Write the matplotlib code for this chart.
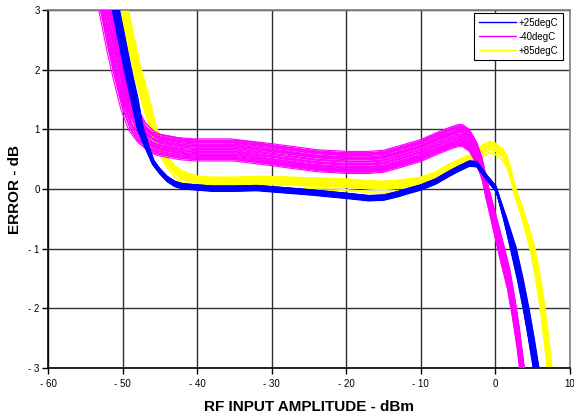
import numpy as np
import matplotlib
matplotlib.use('Agg')
import matplotlib.pyplot as plt

plt.rc('font', family=['Liberation Sans', 'DejaVu Sans'], size=7)
plt.rc('axes', unicode_minus=False)

# centre line of each bundle (dBm, dB)
x_25 = [-51.3, -50.9, -50.1, -49.3, -48.4, -47.6, -46.7, -45.9, -45.0, -44.0,
        -43.0, -42.0, -40.0, -38.0, -35.0, -32.0, -30.0, -25.0, -20.0, -17.0,
        -15.0, -13.0, -12.0, -10.0, -8.0, -6.2, -5.0, -3.5, -2.5, -1.2,
        0.1, 1.3, 2.4, 3.3, 4.1, 4.8, 5.45, 5.7]
y_25 = [3.3, 3.0, 2.5, 2.0, 1.5, 1.0, 0.7, 0.45, 0.3, 0.17,
        0.09, 0.05, 0.03, 0.01, 0.01, 0.02, 0.0, -0.05, -0.11, -0.15,
        -0.14, -0.08, -0.04, 0.03, 0.13, 0.26, 0.34, 0.43, 0.42, 0.2,
        0.0, -0.5, -1.0, -1.5, -2.0, -2.5, -3.0, -3.3]

x_m40 = [-52.5, -52.0, -51.2, -50.3, -49.3, -48.3, -47.3, -46.0, -45.0, -42.0,
         -40.0, -37.0, -35.0, -33.0, -30.0, -27.0, -24.0, -20.0, -17.0, -15.0,
         -13.0, -10.0, -8.0, -6.0, -5.0, -4.4, -3.5, -2.5, -1.8, -1.2,
         -0.3, 0.8, 1.8, 2.5, 3.1, 3.6, 3.9]
y_m40 = [3.3, 3.0, 2.5, 2.0, 1.5, 1.15, 0.95, 0.8, 0.75, 0.68,
         0.66, 0.66, 0.66, 0.63, 0.58, 0.53, 0.48, 0.45, 0.45, 0.47,
         0.54, 0.65, 0.76, 0.86, 0.9, 0.9, 0.82, 0.6, 0.35, 0.0,
         -0.45, -1.0, -1.5, -2.0, -2.5, -3.0, -3.3]

x_85 = [-50.2, -49.8, -49.0, -48.1, -47.0, -45.9, -45.0, -44.0, -43.0, -42.0,
        -40.0, -38.0, -35.0, -32.0, -30.0, -25.0, -20.0, -17.0, -15.0, -13.0,
        -10.0, -8.0, -6.2, -5.0, -3.5, -2.5, -1.6, -0.8, 0.0, 1.0,
        1.5, 2.0, 2.6, 3.5, 4.3, 4.95, 5.7, 6.3, 6.8, 7.25, 7.5]
y_85 = [3.3, 3.0, 2.5, 2.0, 1.5, 1.0, 0.7, 0.47, 0.32, 0.23,
        0.15, 0.13, 0.13, 0.14, 0.14, 0.12, 0.1, 0.07, 0.06, 0.08,
        0.13, 0.22, 0.35, 0.42, 0.5, 0.6, 0.68, 0.73, 0.7, 0.6,
        0.5, 0.3, 0.0, -0.35, -0.7, -1.0, -1.5, -2.0, -2.5, -3.0, -3.3]

# spread of the parts inside each bundle: dx is relative (-1..1), dy in dB
dx_25 = [-1.0, -0.9, -0.8, -0.75, -0.65, -0.55, -0.5, -0.4, -0.3, -0.25, -0.15,
         -0.1, 0.0, 0.05, 0.15, 0.2, 0.3, 0.35, 0.45, 0.5, 0.6, 0.65, 0.75,
         0.8, 0.9, 1.0, -0.35, 0.25, -0.05, 0.55, -0.7, 0.1]
dy_25 = [0.04, -0.02, 0.03, 0.0, -0.04, 0.02, 0.04, -0.01, 0.01, -0.03, 0.03,
         0.0, -0.02, 0.03, -0.04, 0.01, 0.02, -0.02, 0.035, -0.035, 0.02, -0.01,
         0.0, -0.03, 0.03, -0.04, 0.01, 0.02, -0.02, 0.0, 0.015, -0.05]
dx_m40 = [-1.0, 0.5, -0.4, -0.2, 0.3, -0.6, 0.1, -0.1, 0.45, -0.35, 0.2,
          0.0, -0.55, 0.25, -0.05, 0.55, -0.7, 0.35, -0.25, 0.15, -0.45, 0.4,
          -0.85, 0.05, 0.6, -0.15, 0.3, -0.3, 0.1, -0.5, 0.5, -0.65]
dy_m40 = [0.18, 0.15, 0.13, 0.11, 0.09, 0.07, 0.05, 0.04, 0.02, 0.0, -0.02,
          -0.03, -0.05, -0.07, -0.08, -0.1, -0.12, -0.13, -0.15, -0.17, -0.19, 0.16,
          -0.16, 0.12, 0.08, -0.04, 0.01, -0.09, 0.14, -0.11, 0.06, -0.14]
dx_85 = [0.3, -0.8, 0.9, -0.2, -1.0, 0.6, 0.0, -0.5, 0.75, -0.35, 0.15,
         -0.65, 0.45, 1.0, -0.1, 0.25, -0.9, 0.5, -0.45, 0.85, -0.25, 0.35,
         -0.75, 0.1, 0.65, -0.55, 0.2, -0.15, 0.55, -0.3, 0.05, 0.4]
dy_85 = [0.07, 0.06, 0.05, 0.04, 0.03, 0.02, 0.01, 0.0, -0.01, -0.02, -0.03,
         -0.04, -0.05, -0.06, -0.07, 0.065, 0.045, 0.025, 0.005, -0.015, -0.035, -0.055,
         0.055, 0.035, 0.015, -0.005, -0.025, -0.045, -0.065, -0.11, 0.0, -0.13]

# label, colour, x, y, dx, dy, sideways spread on left / right slopes (dBm), layer
series = [('+25degC', '#0000ff', x_25, y_25, dx_25, dy_25, 0.5, 0.4, 4),
          ('-40degC', '#ff00ff', x_m40, y_m40, dx_m40, dy_m40, 1.1, 0.25, 3),
          ('+85degC', '#ffff00', x_85, y_85, dx_85, dy_85, 0.6, 0.35, 2)]

xticks = [-60, -50, -40, -30, -20, -10, 0, 10]
xticklabels = ['- 60', '- 50', '- 40', '- 30', '- 20', '- 10', '0', '10']
yticks = [-3, -2, -1, 0, 1, 2, 3]
yticklabels = ['- 3', '- 2', '- 1', '0', '1', '2', '3']

fig = plt.figure(figsize=(5.74, 4.18), dpi=100)
ax = fig.add_axes([48 / 574, 50 / 418, 522 / 574, 358 / 418])

for label, c, xs, ys, dxs, dys, sl, sr, z in series:
    xs = np.array(xs)
    ys = np.array(ys)
    # how much the sideways spread applies along the curve
    wl = np.clip((ys - 0.2) / 1.0, 0, 1) * (xs < -30)
    wr = np.clip(-ys / 1.0, 0, 1) * (xs > -5)
    for i, (dx, dy) in enumerate(zip(dxs, dys)):
        ax.plot(xs + dx * (sl * wl + sr * wr), ys + dy, color=c, lw=0.8,
                label=label if i == 0 else None, zorder=z)

ax.set_xlim(-60, 10)
ax.set_ylim(-3, 3)
ax.set_xticks(xticks)
ax.set_xticklabels(xticklabels)
ax.set_yticks(yticks)
ax.set_yticklabels(yticklabels)
ax.grid(True, color='#303030', lw=1.0, zorder=1)
ax.set_axisbelow(True)
ax.tick_params(direction='out', length=4, width=1, pad=2, labelsize=7)
ax.tick_params(axis='x', pad=4)
for s in ['left', 'bottom']:
    ax.spines[s].set_color('black')
    ax.spines[s].set_linewidth(1.2)
for s in ['top', 'right']:
    ax.spines[s].set_color('#808080')
    ax.spines[s].set_linewidth(1.2)

ax.set_xlabel('RF INPUT AMPLITUDE - dBm', fontsize=11, fontweight='bold')
ax.set_ylabel('ERROR - dB', fontsize=11, fontweight='bold')
ax.xaxis.set_label_coords(0.5, -0.088)
ax.yaxis.set_label_coords(-0.05, 0.5)

leg = ax.legend(loc='upper right', bbox_to_anchor=(0.987, 0.992), fontsize=7,
                frameon=True, fancybox=False, edgecolor='black', framealpha=1,
                handlelength=3.8, handletextpad=0.3, borderpad=0.5, labelspacing=0.4,
                borderaxespad=0)
leg.get_frame().set_linewidth(0.8)
for ln in leg.get_lines():
    ln.set_linewidth(1.0)

fig.savefig('out.png', dpi=100)
